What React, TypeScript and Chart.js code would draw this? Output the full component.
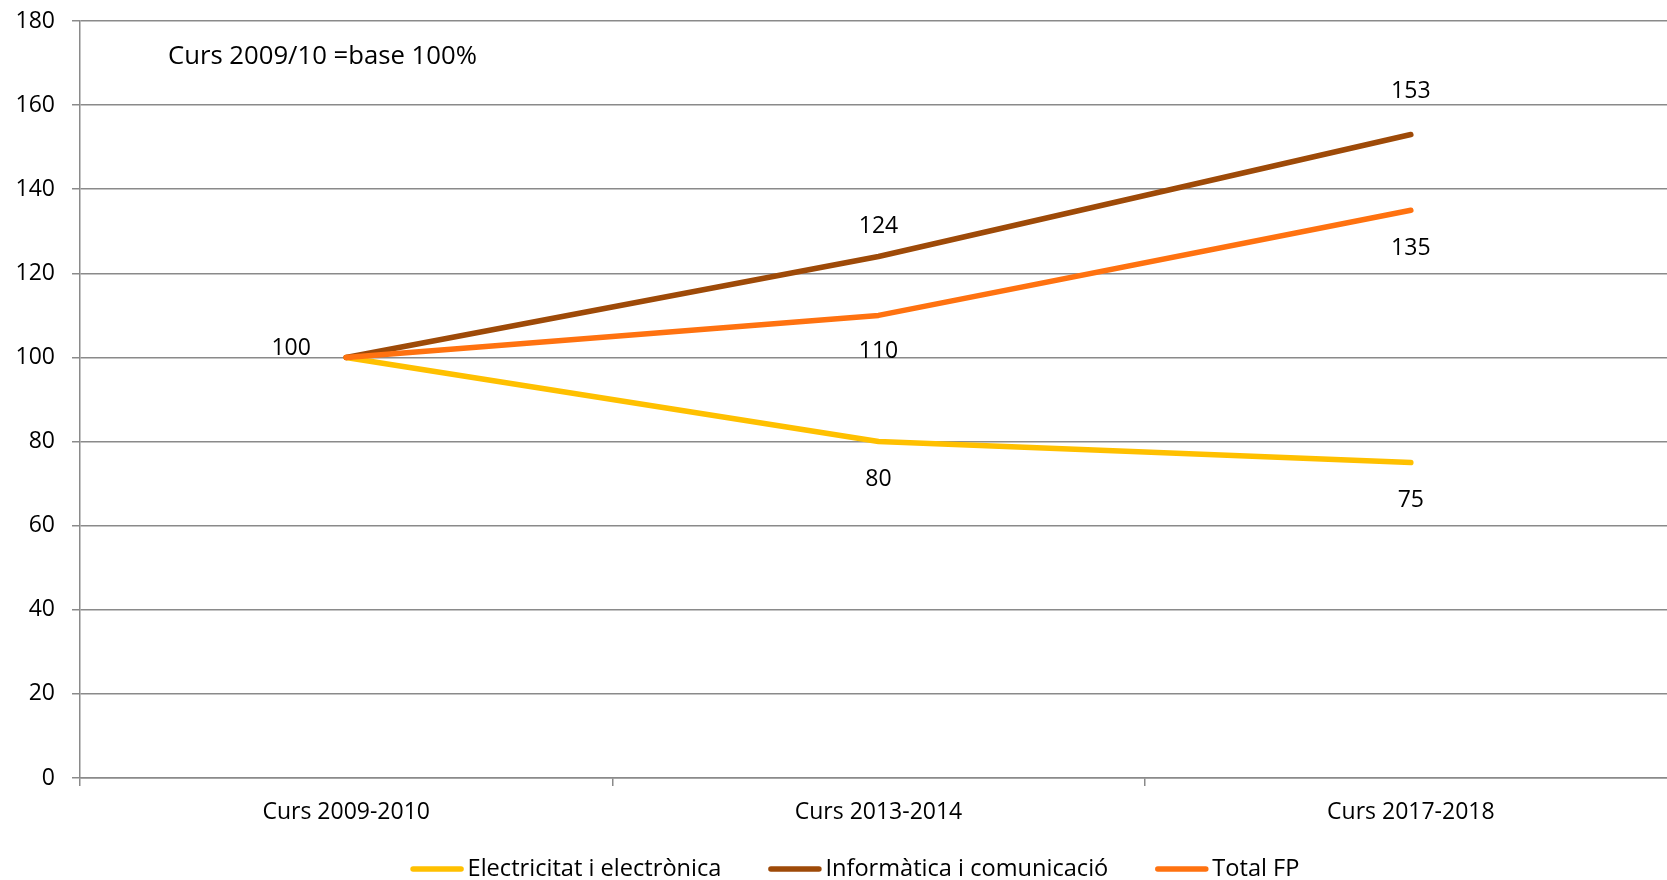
import React, { useEffect, useRef } from "react";
import { Chart, registerables } from "chart.js";

Chart.register(...registerables);

// ---- data ----
const categories = ["Curs 2009-2010", "Curs 2013-2014", "Curs 2017-2018"];
const seriesNames = ["Electricitat i electrònica", "Informàtica i comunicació", "Total FP"];
const electricitat = [100, 80, 75];
const informatica = [100, 124, 153];
const totalFP = [100, 110, 135];
const yMin = 0;
const yMax = 180;
const yStep = 20;
const noteText = "Curs 2009/10 =base 100%";

// ---- styles ----
const FONT = "'Open Sans', sans-serif";
const FONT_SIZE = 23;
const colors = ["#FFC000", "#9E4A08", "#FF7210"];
const GRID = "#8a8a8a";
// label offsets (dx, dy) from each point, null = no label
const labelOffsets: (number[] | null)[][] = [
  [null, [0, 38], [0, 38]],
  [[-55, -9], [0, -30], [0, -43]],
  [null, [0, 36], [0, 38]],
];

const overlayPlugin = {
  id: "overlay",
  afterDatasetsDraw(chart: any) {
    const ctx = chart.ctx;
    const area = chart.chartArea;
    ctx.save();
    ctx.font = `${FONT_SIZE}px ${FONT}`;
    ctx.fillStyle = "#000";
    ctx.textAlign = "center";
    ctx.textBaseline = "middle";
    chart.data.datasets.forEach((ds: any, di: number) => {
      const meta = chart.getDatasetMeta(di);
      const offs = labelOffsets[di];
      meta.data.forEach((pt: any, i: number) => {
        const o = offs[i];
        if (!o) return;
        ctx.fillText(String(ds.data[i]), pt.x + o[0], pt.y + o[1]);
      });
    });
    // note
    ctx.textAlign = "left";
    ctx.font = `25.7px ${FONT}`;
    ctx.fillText(noteText, area.left + 88, area.top + 36);

    // legend
    ctx.font = `23.6px ${FONT}`;
    const lineW = 53;
    const gapText = 4;
    const gapItem = 47;
    const widths = seriesNames.map((n) => ctx.measureText(n).width);
    const total = widths.reduce((a, w) => a + lineW + gapText + w, 0) + gapItem * (seriesNames.length - 1);
    let x = 855 - total / 2;
    const y = 869;
    seriesNames.forEach((n, i) => {
      ctx.strokeStyle = colors[i];
      ctx.lineWidth = 5.5;
      ctx.lineCap = "round";
      ctx.beginPath();
      ctx.moveTo(x + 2.5, y);
      ctx.lineTo(x + lineW - 2.5, y);
      ctx.stroke();
      ctx.fillStyle = "#000";
      ctx.fillText(n, x + lineW + gapText, y);
      x += lineW + gapText + widths[i] + gapItem;
    });
    ctx.restore();
  },
};

export default function App() {
  const ref = useRef<HTMLCanvasElement | null>(null);
  useEffect(() => {
    document.body.style.margin = "0";
    const canvas = ref.current;
    if (!canvas) return;
    const font = { family: FONT, size: FONT_SIZE };
    const chart = new Chart(canvas, {
      type: "line",
      data: {
        labels: categories,
        datasets: [
          { label: seriesNames[0], data: electricitat, borderColor: colors[0], order: 2 },
          { label: seriesNames[1], data: informatica, borderColor: colors[1], order: 1 },
          { label: seriesNames[2], data: totalFP, borderColor: colors[2], order: 0 },
        ].map((d) => ({
          ...d,
          borderWidth: 5.5,
          pointRadius: 0,
          pointHoverRadius: 0,
          tension: 0,
          fill: false,
          borderCapStyle: "round",
          borderJoinStyle: "round",
        })) as any,
      },
      options: {
        responsive: false,
        animation: false,
        devicePixelRatio: 1,
        layout: { padding: { top: 21, bottom: 52, left: 0, right: 0 } },
        plugins: { legend: { display: false }, tooltip: { enabled: false } },
        scales: {
          x: {
            type: "category",
            offset: true,
            grid: { offset: true, drawOnChartArea: false, tickLength: 8, color: GRID, lineWidth: 1.5 },
            border: { color: GRID, width: 1.5 },
            ticks: { color: "#000", font, padding: 13, maxRotation: 0, autoSkip: false },
            afterFit: (s: any) => {
              s.height = 50;
              s.paddingLeft = 0;
              s.paddingRight = 0;
            },
          },
          y: {
            min: yMin,
            max: yMax,
            ticks: { stepSize: yStep, color: "#000", font, padding: 17 },
            grid: { color: GRID, lineWidth: 1.5, tickLength: 8 },
            border: { color: GRID, width: 1.5 },
            afterFit: (s: any) => {
              s.width = 80;
              s.paddingTop = 0;
              s.paddingBottom = 0;
            },
          },
        },
      },
      plugins: [overlayPlugin],
    });
    return () => chart.destroy();
  }, []);
  return (
    <div style={{ width: 1667, height: 880, overflow: "hidden", position: "relative", background: "#fff" }}>
      <canvas ref={ref} width={1677} height={880} style={{ display: "block" }} />
    </div>
  );
}
